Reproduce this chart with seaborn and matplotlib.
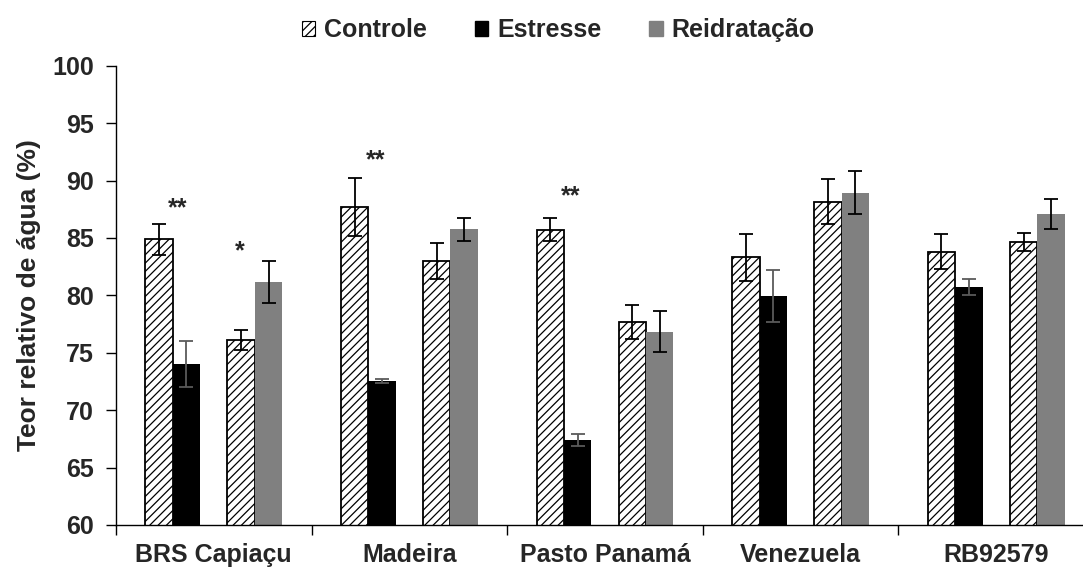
import matplotlib
matplotlib.use("Agg")
import matplotlib.pyplot as plt
import seaborn as sns
import pandas as pd
import numpy as np
from matplotlib.patches import Patch

# ---- data ----
cultivares = ["BRS Capiaçu", "Madeira", "Pasto Panamá", "Venezuela", "RB92579"]
controle_estresse = [84.9, 87.7, 85.7, 83.3, 83.8]
controle_estresse_err = [1.35, 2.5, 1.0, 2.05, 1.5]
estresse = [74.0, 72.55, 67.4, 79.95, 80.7]
estresse_err = [2.0, 0.2, 0.55, 2.3, 0.7]
controle_reid = [76.1, 83.0, 77.7, 88.15, 84.65]
controle_reid_err = [0.9, 1.6, 1.5, 1.95, 0.75]
reidratacao = [81.15, 85.75, 76.85, 88.95, 87.05]
reidratacao_err = [1.85, 1.0, 1.75, 1.9, 1.3]

sig_text = ["**", "*", "**", "**"]
sig_cat = [0, 0, 1, 2]
sig_y = [87.6, 83.8, 91.8, 88.6]
sig_off = [-0.185, 0.135, -0.175, -0.175]

legend_labels = ["Controle", "Estresse", "Reidratação"]
yticks = [60, 65, 70, 75, 80, 85, 90, 95, 100]

# ---- build long table ----
levels = ["C1", "E", "gap", "C2", "R"]
series = {"C1": (controle_estresse, controle_estresse_err),
          "E": (estresse, estresse_err),
          "C2": (controle_reid, controle_reid_err),
          "R": (reidratacao, reidratacao_err)}
rows = []
for lev, (vals, errs) in series.items():
    for c, v, e in zip(cultivares, vals, errs):
        rows.append({"cultivar": c, "grupo": lev, "valor": v, "erro": e})
df = pd.DataFrame(rows)

sns.set_theme(style="white")
plt.rcParams["font.family"] = ["Liberation Sans", "DejaVu Sans"]
plt.rcParams["font.weight"] = "bold"
plt.rcParams["hatch.linewidth"] = 0.9
plt.rcParams["hatch.color"] = "black"

fig = plt.figure(figsize=(10.83, 5.69), dpi=100)
ax = fig.add_axes([116 / 1083, 1 - 525 / 569, 978 / 1083, (525 - 65.7) / 569])

palette = {"C1": "#ffffff", "E": "#000000", "gap": "#ffffff", "C2": "#ffffff", "R": "#808080"}
sns.barplot(data=df, x="cultivar", y="valor", hue="grupo", order=cultivares,
            hue_order=levels, palette=palette, errorbar=None, width=0.7,
            saturation=1, ax=ax, legend=False, linewidth=0)

# style bars and add error bars
step = 0.14
code_by_off = {-2: "C1", -1: "E", 1: "C2", 2: "R"}
err_color = {"C1": "black", "E": "#5a5a5a", "C2": "black", "R": "black"}
for p in ax.patches:
    if p.get_height() is None or np.isnan(p.get_height()) or p.get_width() == 0:
        continue
    xc = p.get_x() + p.get_width() / 2
    ci = int(round(xc))
    k = int(round((xc - ci) / step))
    if k not in code_by_off:
        continue
    code = code_by_off[k]
    vals, errs = series[code]
    if code in ("C1", "C2"):
        p.set_facecolor("white")
        p.set_edgecolor("black")
        p.set_hatch("////")
        p.set_linewidth(1.3)
    else:
        p.set_linewidth(0)
    ax.errorbar(xc, p.get_height(), yerr=errs[ci], fmt="none",
                ecolor=err_color[code], elinewidth=1.3, capsize=5, capthick=1.3, zorder=5)

for t, c, o, y in zip(sig_text, sig_cat, sig_off, sig_y):
    ax.text(c + o, y, t, ha="center", va="center", fontsize=18, fontweight="bold")

ax.set_ylim(60, 100)
ax.set_xlim(-0.5, len(cultivares) - 0.5)
ax.set_yticks(yticks)
ax.set_yticklabels([str(v) for v in yticks], fontsize=18, fontweight="bold")
ax.tick_params(axis="y", direction="out", length=7, width=1.0, color="black", left=True, pad=9)
ax.set_xticks(range(len(cultivares)))
ax.set_xticklabels(cultivares, fontsize=18, fontweight="bold")
ax.tick_params(axis="x", which="major", length=0, pad=13)
ax.set_xticks(np.arange(-0.5, len(cultivares) + 0.5, 1.0), minor=True)
ax.tick_params(axis="x", which="minor", direction="out", length=7, width=1.0, color="black", bottom=True)
ax.set_xlabel("")
ax.set_ylabel("Teor relativo de água (%)", fontsize=19, fontweight="bold", labelpad=8)
for s in ["top", "right"]:
    ax.spines[s].set_visible(False)
for s in ["left", "bottom"]:
    ax.spines[s].set_color("black")
    ax.spines[s].set_linewidth(1.0)

handles = [Patch(facecolor="white", edgecolor="black", hatch="////", linewidth=0.8),
           Patch(facecolor="black", edgecolor="black"),
           Patch(facecolor="#808080", edgecolor="#808080")]
fig.legend(handles, legend_labels, loc="center", bbox_to_anchor=(558 / 1083, 1 - 30 / 569),
           ncol=3, frameon=False, handlelength=0.55, handleheight=0.55, handletextpad=0.35,
           columnspacing=1.9, prop={"size": 18, "weight": "bold"})

fig.savefig("out.png", dpi=100)
